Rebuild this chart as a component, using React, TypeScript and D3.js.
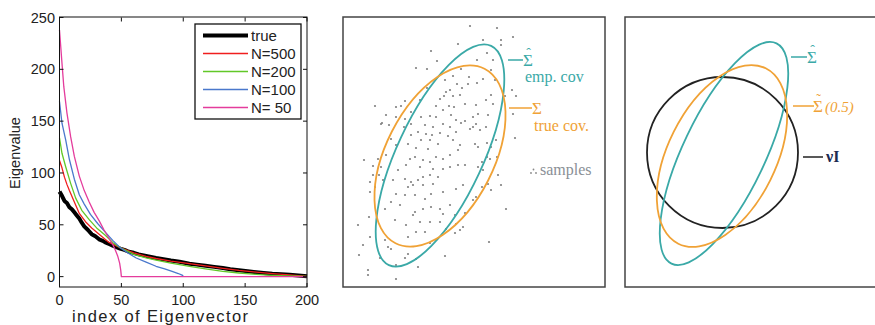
import React from "react";
import * as d3 from "d3";

// ---- panel 1: eigenvalue spectra, [index, eigenvalue]
const indexTicks = [0, 50, 100, 150, 200];
const valueTicks = [0, 50, 100, 150, 200, 250];

const trueSpectrum: [number, number][] = [
  [0, 82], [2, 78], [4, 73], [6, 71], [8, 67], [10, 65], [12, 62], [14, 59], [16, 56], [18, 52],
  [20, 48.5], [23, 45], [26, 41], [29, 39], [32, 36], [35, 34.5], [37, 33], [40, 31.5], [43, 30],
  [46, 28.5], [49, 27], [53, 25.5], [56, 24], [60, 23], [64, 21.5], [68, 20.5], [72, 19.5],
  [78, 18], [84, 16.8], [90, 15.5], [97, 14.3], [105, 12.5], [111, 11.6], [118, 10.5],
  [125, 9.4], [132, 8.3], [138, 7.2], [145, 6.2], [152, 5.2], [159, 4.2], [165, 3.5],
  [172, 2.8], [179, 2.3], [186, 1.9], [193, 1.1], [200, 0.3],
];
const n500: [number, number][] = [
  [0, 112], [2, 105], [4, 96], [6, 89], [8, 83], [12, 72], [16, 61], [21, 53], [26, 47],
  [32, 41], [40, 33], [49, 28], [60, 23], [70, 19.5], [78, 17.5], [90, 15], [105, 12.5],
  [118, 10.3], [132, 8], [145, 6], [159, 4.3], [172, 2.9], [186, 1.6], [200, 0.3],
];
const n200: [number, number][] = [
  [0, 134], [2, 119], [5, 106], [9, 90], [13, 76], [18, 64], [24, 55], [30, 47], [37, 40],
  [43, 33], [49, 28], [60, 21.5], [70, 18], [78, 16], [90, 13], [105, 10], [118, 7.5],
  [132, 5.1], [145, 3.5], [159, 2.2], [172, 1.3], [186, 0.7], [200, 0.3],
];
const n100: [number, number][] = [
  [0, 169], [2, 148], [5, 132], [8, 113], [12, 94], [16, 79], [20, 70], [25, 60], [31, 51],
  [37, 43], [43, 35], [49, 28], [55, 23], [62, 18], [70, 14], [78, 10], [85, 7.5], [91, 5],
  [96, 3], [99, 1.5], [100, 0.5],
];
const n50: [number, number][] = [
  [0, 238], [2, 206], [3.5, 183], [6, 158], [9, 135], [12, 116], [16, 97], [20, 83], [24, 72],
  [28, 62], [32, 54], [36, 45], [40, 37], [43, 31], [45, 26], [47, 20], [48.6, 13], [49.5, 6],
  [50, 0], [200, 0],
];

const seriesNames = ["true", "N=500", "N=200", "N=100", "N= 50"];
const seriesData = [trueSpectrum, n500, n200, n100, n50];
const seriesColors = ["#000000", "#f01e1e", "#62c828", "#4a78cc", "#e43c9c"];
const seriesWidths = [4, 1.3, 1.3, 1.3, 1.3];

// ---- panel 2: samples (x, y) relative to the ellipse centre
const samples: [number, number][] = [
  [18, 112], [-9, 105], [-3, 95], [-24, 88], [-13, 87], [21, 87], [29, 79], [5, 76], [13, 80],
  [17, 72], [22, 68], [28, 72], [-13, 68], [10, 66], [6, 64], [0, 57], [4, 60], [13, 60],
  [20, 61], [-4, 50], [9, 50], [14, 49], [25, 52], [-35, 55], [-44, 49], [-65, 50], [-39, 50],
  [-20, 56], [-29, 44], [3, 46], [11, 41], [16, 36], [21, 33], [25, 35], [-19, 39], [-10, 40],
  [-4, 39], [-59, 32], [-51, 31], [-44, 39], [-35, 37], [-29, 32], [-36, 29], [-15, 31],
  [-7, 29], [3, 32], [10, 29], [-22, 24], [-14, 22], [-8, 21], [0, 23], [8, 20], [16, 24],
  [30, 27], [-19, 16], [-10, 16], [-2, 12], [13, 16], [20, 11], [-49, 17], [-44, 11], [-29, 21],
  [-32, 12], [-24, 8], [18, 6], [-12, 7],
  [57, 128], [73, 119], [61, 116], [43, 116], [61, 111], [47, 103], [37, 96], [53, 96],
  [51, 86], [43, 77], [55, 76], [72, 66], [76, 60], [65, 60], [51, 61], [46, 56], [53, 52],
  [36, 51], [73, 42], [38, 42], [48, 41], [36, 32], [46, 29], [75, 18], [56, 16], [40, 26],
  [35, 12], [51, 9],
  [-76, -4], [-59, -11], [-67, -19], [-70, -26], [-61, -19], [-70, -36], [-57, -24], [-47, -24],
  [-42, -14], [-34, -9], [-30, -3], [-25, -1], [-17, -4], [-10, -6], [-4, -1], [3, -3],
  [10, -11], [18, -9], [25, -9], [-20, -11], [-7, -13], [3, -13], [10, 1], [-35, -23],
  [-29, -26], [-22, -24], [-17, -21], [-10, -19], [-2, -21], [-27, -29], [-17, -29], [-7, -28],
  [-32, -31], [-44, -38], [-35, -39], [-25, -39], [-15, -43], [-9, -38], [3, -36], [16, -33],
  [23, -29], [-49, -46], [-40, -49], [-25, -56], [-27, -59], [-17, -53], [-9, -51], [0, -53],
  [3, -58], [10, -49], [15, -59], [-55, -53], [-45, -64], [-34, -69], [-20, -66], [-10, -66],
  [0, -66], [6, -73], [16, -68], [20, -74], [-82, -69], [-71, -61], [-70, -81], [-32, -81],
  [-24, -76], [-15, -76], [-55, -84], [-77, -89], [-52, -91], [-49, -93], [-4, -84], [-32, -98],
  [-81, -99], [-60, -102], [-35, -102], [-24, -103], [-44, -109], [-22, -111], [-72, -114],
  [-72, -119], [-44, -123], [-62, -3], [-54, 1],
  [50, -3], [42, -6], [38, -11], [43, -14], [48, -28], [61, -29], [51, -34], [36, -41],
  [66, -53], [49, -86],
  [30, 130], [-54, 41], [-58, 33], [-67, -10], [-65, -31], [5, -100], [-10, -87], [15, -77],
  [23, -71], [25, -57], [33, -44], [42, -31], [58, -19], [47, -1], [57, -1], [38, 9], [47, 13],
  [33, 29], [33, 39], [37, 73],
];

// ellipses: centre, semi-axes, tilt in degrees
const empCov = { cx: 0, cy: 0.5, major: 121, minor: 43, angle: 65 };
const trueCov = { cx: 0, cy: 0, major: 98, minor: 54, angle: 63 };
const empCov3 = { cx: 0, cy: 0.5, major: 122, minor: 41, angle: 64.5 };
const shrunkCov = { cx: -2, cy: -2, major: 98, minor: 54, angle: 63.5 };
const isoCov = { cx: -1.5, cy: 1.5, major: 75.5, minor: 75.5, angle: 0 };

const TEAL = "#3aa9a7";
const ORANGE = "#f0a236";
const serif = "'Liberation Serif', 'DejaVu Serif', serif";
const sans = "'Liberation Sans', Arial, sans-serif";

const Ellipse = ({ e, x, y, color }: any) => (
  <ellipse
    cx={0}
    cy={0}
    rx={Math.abs(x(e.major) - x(0))}
    ry={Math.abs(y(e.minor) - y(0))}
    transform={`translate(${x(e.cx)},${y(e.cy)}) rotate(${-e.angle})`}
    fill="none"
    stroke={color}
    strokeWidth={1.8}
  />
);

// Sigma with a mark (hat or tilde) drawn above it
const MarkedSigma = ({ x, y, mark, color }: any) => (
  <g fill={color} fontFamily={serif}>
    <text x={x} y={y} fontSize={17}>Σ</text>
    <text x={x + 5.5} y={y - 8} fontSize={14} textAnchor="middle">{mark}</text>
  </g>
);

const App = () => {
  // panel 1 scales
  const xs = d3.scaleLinear().domain([0, 200]).range([59.5, 307]);
  const ys = d3.scaleLinear().domain([-10, 250]).range([287, 17.5]);
  const line = d3.line<[number, number]>().x((d) => xs(d[0])).y((d) => ys(d[1]));

  // panel 2 and 3 scales (same units)
  const x2 = d3.scaleLinear().domain([-97, 165]).range([343, 605]);
  const y2 = d3.scaleLinear().domain([-131, 139]).range([287, 17]);
  const x3 = d3.scaleLinear().domain([-99, 163]).range([625, 887]);
  const y3 = d3.scaleLinear().domain([-133, 137]).range([287, 17]);

  return (
    <svg width={875} height={325} style={{ position: "absolute", left: 0, top: 0, background: "#fff" }}>
      {/* ---------- panel 1 ---------- */}
      <g fontFamily={sans} fill="#222">
        {seriesData.map((d, i) => (
          <path key={i} d={line(d) || ""} fill="none" stroke={seriesColors[i]}
            strokeWidth={seriesWidths[i]} strokeLinejoin="round" />
        ))}
        <rect x={xs(0)} y={ys(250) - 0.5} width={xs(200) - xs(0)} height={ys(-10) - ys(250) + 0.5}
          fill="none" stroke="#111" strokeWidth={1} />
        {valueTicks.map((t) => (
          <g key={t}>
            <line x1={xs(0)} x2={xs(0) + 4} y1={ys(t)} y2={ys(t)} stroke="#111" />
            <line x1={xs(200)} x2={xs(200) - 4} y1={ys(t)} y2={ys(t)} stroke="#111" />
            <text x={55} y={ys(t)} dy="0.35em" textAnchor="end" fontSize={14.5}>{t}</text>
          </g>
        ))}
        {indexTicks.map((t) => (
          <g key={t}>
            <line x1={xs(t)} x2={xs(t)} y1={ys(-10)} y2={ys(-10) - 4} stroke="#111" />
            <line x1={xs(t)} x2={xs(t)} y1={ys(250)} y2={ys(250) + 4} stroke="#111" />
            <text x={xs(t)} y={305} textAnchor="middle" fontSize={14.5}>{t}</text>
          </g>
        ))}
        <text transform="translate(20,153) rotate(-90)" textAnchor="middle" fontSize={14.5}>Eigenvalue</text>
        <text x={72} y={322} fontSize={16.5} textLength={176} lengthAdjust="spacing">index of Eigenvector</text>

        <rect x={195} y={24} width={106} height={95} fill="#fff" stroke="#111" strokeWidth={1.3} />
        {seriesNames.map((s, i) => (
          <g key={s}>
            <line x1={203} x2={248} y1={35.5 + i * 18} y2={35.5 + i * 18}
              stroke={seriesColors[i]} strokeWidth={seriesWidths[i]} />
            <text x={251} y={35.5 + i * 18} dy="0.35em" fontSize={15}>{s}</text>
          </g>
        ))}
      </g>

      {/* ---------- panel 2 ---------- */}
      <rect x={343} y={17} width={262} height={270} fill="none" stroke="#444" strokeWidth={1.5} />
      {samples.map((p, i) => (
        <circle key={i} cx={x2(p[0])} cy={y2(p[1])} r={1.1} fill="#808080" />
      ))}
      <Ellipse e={empCov} x={x2} y={y2} color={TEAL} />
      <Ellipse e={trueCov} x={x2} y={y2} color={ORANGE} />
      <line x1={508} x2={523} y1={60} y2={60} stroke={TEAL} strokeWidth={1.5} />
      <MarkedSigma x={523} y={66} mark="ˆ" color={TEAL} />
      <text x={525} y={82} fontSize={16} fontFamily={serif} fill={TEAL}>emp. cov</text>
      <line x1={509} x2={532} y1={108} y2={108} stroke={ORANGE} strokeWidth={1.5} />
      <text x={532} y={114} fontSize={17} fontFamily={serif} fill={ORANGE}>Σ</text>
      <text x={534} y={131} fontSize={16} fontFamily={serif} fill={ORANGE}>true cov.</text>
      <circle cx={531} cy={173} r={0.9} fill="#888" />
      <circle cx={536} cy={173} r={0.9} fill="#888" />
      <circle cx={533.5} cy={169.5} r={0.9} fill="#888" />
      <text x={540} y={175} fontSize={16} fontFamily={serif} fill="#8a8f96">samples</text>

      {/* ---------- panel 3 ---------- */}
      <rect x={625} y={17} width={262} height={270} fill="none" stroke="#444" strokeWidth={1.5} />
      <Ellipse e={isoCov} x={x3} y={y3} color="#222" />
      <Ellipse e={empCov3} x={x3} y={y3} color={TEAL} />
      <Ellipse e={shrunkCov} x={x3} y={y3} color={ORANGE} />
      <line x1={791} x2={807} y1={57} y2={57} stroke={TEAL} strokeWidth={1.5} />
      <MarkedSigma x={807} y={63} mark="ˆ" color={TEAL} />
      <line x1={793} x2={814} y1={106} y2={106} stroke={ORANGE} strokeWidth={1.5} />
      <MarkedSigma x={813} y={112} mark="˜" color={ORANGE} />
      <text x={825} y={112} fontSize={15} fontFamily={serif} fontStyle="italic" fill={ORANGE}>(0.5)</text>
      <line x1={803} x2={823} y1={157} y2={157} stroke="#222" strokeWidth={1.5} />
      <text x={826} y={162} fontSize={16} fontWeight="bold" fontFamily={serif} fill="#1c2a50">νI</text>
    </svg>
  );
};

export default App;
